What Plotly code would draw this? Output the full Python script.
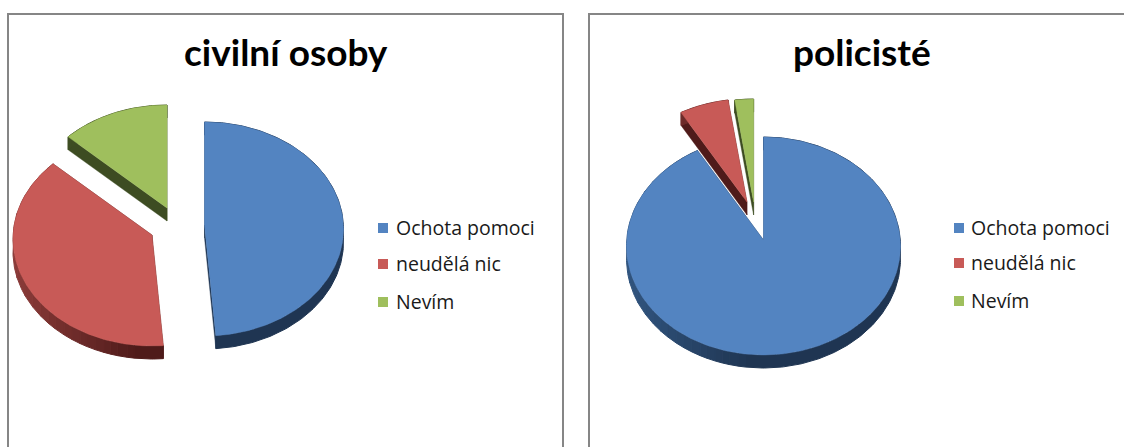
import math
import plotly.graph_objects as go

# ---- data ----
categories = ["Ochota pomoci", "neudělá nic", "Nevím"]
civilni_values = [48.7, 38.7, 12.6]
policiste_values = [92.0, 5.8, 2.2]
titles = ["civilní osoby", "policisté"]

# ---- styling / layout (pixel space of the page) ----
TOP = ["#5384c1", "#c85a57", "#9fbf5d"]
SIDE_LIGHT = ["#31557f", "#8b3b39", "#3f4f24"]
SIDE_DARK = ["#1f3552", "#4f1b1a", "#3d4c22"]
PIES = [
    dict(values=civilni_values, rx=139, ry=107, off=4, depth=13, left=13,
         apex=[(204.5, 225), (152, 235), (167, 208)],
         title_x=286, swatch_x=383, text_x=394, rows=[227.5, 263.5, 301.5]),
    dict(values=policiste_values, rx=137, ry=109, off=6, depth=13, left=626,
         apex=[(763.5, 240), (747, 202), (753.6, 202)],
         title_x=862, swatch_x=959, text_x=969, rows=[227.5, 262.5, 300.5]),
]
FRAME = "#868686"
BANDS = 16


def mix(a, b, t):
    ca = [int(a[i:i + 2], 16) for i in (1, 3, 5)]
    cb = [int(b[i:i + 2], 16) for i in (1, 3, 5)]
    return "#%02x%02x%02x" % tuple(round(p + (q - p) * t) for p, q in zip(ca, cb))


def polygons_trace(polys, color, width=0.4):
    xs, ys = [], []
    for poly in polys:
        xs += [p[0] for p in poly] + [poly[0][0], None]
        ys += [p[1] for p in poly] + [poly[0][1], None]
    return go.Scatter(x=xs, y=ys, mode="lines", fill="toself", fillcolor=color,
                      line=dict(color=color, width=width), hoverinfo="skip", showlegend=False)


fig = go.Figure()

for pie in PIES:
    total = sum(pie["values"])
    start = 0.0
    for i, value in enumerate(pie["values"]):
        end = start + value / total * 360
        ax, ay = pie["apex"][i]
        n = max(2, int(end - start) + 1)
        angles = [math.radians(start + (end - start) * k / n) for k in range(n + 1)]
        rim = [(ax + pie["rx"] * math.sin(a), ay + pie["off"] - pie["ry"] * math.cos(a)) for a in angles]
        d = pie["depth"]
        # cut faces
        faces = [[(ax, ay), rim[0], (rim[0][0], rim[0][1] + d), (ax, ay + d)],
                 [(ax, ay), rim[-1], (rim[-1][0], rim[-1][1] + d), (ax, ay + d)]]
        fig.add_trace(polygons_trace(faces, SIDE_DARK[i]))
        # outer wall: contiguous strips, shaded from left to right
        run, run_band = [], None
        strips = []
        for p, q in zip(rim[:-1], rim[1:]):
            t = min(1.0, max(0.0, ((p[0] + q[0]) / 2 - pie["left"]) / (pie["rx"] * 0.9)))
            band = round(t * BANDS)
            if band != run_band and run:
                strips.append((run_band, run))
                run = [run[-1]]
            if not run:
                run = [p]
            run.append(q)
            run_band = band
        strips.append((run_band, run))
        for band, pts in strips:
            poly = pts + [(x, y + d) for x, y in reversed(pts)]
            fig.add_trace(polygons_trace([poly], mix(SIDE_LIGHT[i], SIDE_DARK[i], band / BANDS), width=1))
        # top surface
        fig.add_trace(polygons_trace([[(ax, ay)] + rim], TOP[i]))
        start = end

    # legend
    for i, name in enumerate(categories):
        fig.add_trace(go.Scatter(
            x=[pie["swatch_x"]], y=[pie["rows"][i] + 0.5], mode="markers",
            marker=dict(symbol="square", size=10, color=TOP[i]),
            hoverinfo="skip", showlegend=False))
        fig.add_annotation(x=pie["text_x"], y=pie["rows"][i], xref="x", yref="y",
                           text=name, showarrow=False, xanchor="left", yanchor="middle",
                           font=dict(family="Open Sans", size=19.5, color="#1a1a1a"))

for title, pie in zip(titles, PIES):
    fig.add_annotation(x=pie["title_x"], y=51, xref="x", yref="y", text="<b>%s</b>" % title,
                       showarrow=False, xanchor="center", yanchor="middle",
                       font=dict(family="Lato", size=37, color="#000000"))

for x0, x1 in [(8, 563), (589, 1200)]:
    fig.add_shape(type="rect", x0=x0, x1=x1, y0=14, y1=500, xref="x", yref="y",
                  line=dict(color=FRAME, width=2), fillcolor="rgba(0,0,0,0)", layer="below")

fig.update_layout(
    width=1124, height=447, margin=dict(l=0, r=0, t=0, b=0),
    paper_bgcolor="white", plot_bgcolor="white", showlegend=False,
    xaxis=dict(range=[0, 1124], visible=False, fixedrange=True),
    yaxis=dict(range=[447, 0], visible=False, fixedrange=True),
)
fig.write_html("out.html", config=dict(displayModeBar=False),
               post_script="document.body.style.margin='0';document.body.style.overflow='hidden';")
